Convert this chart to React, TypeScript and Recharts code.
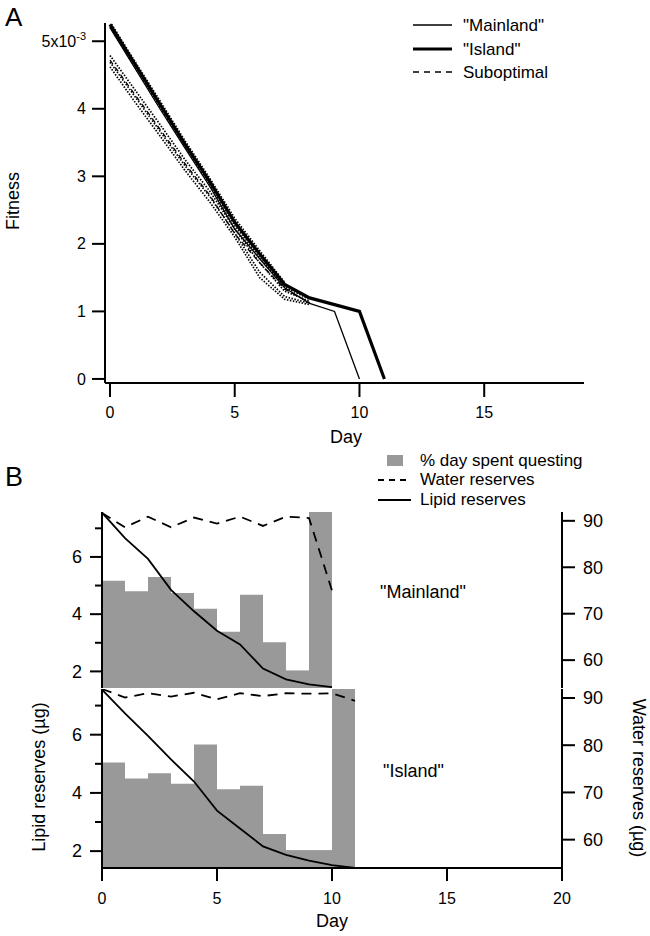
import { LineChart, ComposedChart, Line, Bar, XAxis, YAxis } from 'recharts'

const FONT = '"Liberation Sans", Arial, sans-serif'

// ---- panel A: fitness vs day ----
const fitnessDays = [0, 1, 2, 3, 4, 5, 6, 7, 8, 9, 10, 11]
const mainlandFitness = [5.2, 4.6, 4.0, 3.42, 2.85, 2.22, 1.78, 1.35, 1.12, 1.0, 0]
const islandFitness = [5.25, 4.66, 4.07, 3.48, 2.92, 2.32, 1.85, 1.4, 1.2, 1.1, 1.0, 0]
const subHigh1 = [5.29, 4.7, 4.12, 3.53, 2.97, 2.38, 1.9, 1.43]
const subHigh2 = [5.21, 4.62, 4.03, 3.45, 2.88, 2.27, 1.8, 1.36, 1.18]
const subLow1 = [4.79, 4.28, 3.77, 3.25, 2.78, 2.22, 1.72, 1.3, 1.15]
const subLow2 = [4.69, 4.18, 3.67, 3.16, 2.7, 2.16, 1.58, 1.22, 1.12]
const subLow3 = [4.62, 4.1, 3.6, 3.09, 2.62, 2.1, 1.5, 1.18, 1.1]
const subDashed = [4.72, 4.21, 3.7, 3.19, 2.72, 2.15, 1.72, 1.33, 1.13]
const fitnessTicks = [0, 1, 2, 3, 4, 5]
const dayTicksA = [0, 5, 10, 15]

const dottedSeries = [
  { key: 'subHigh1', values: subHigh1 },
  { key: 'subHigh2', values: subHigh2 },
  { key: 'subLow1', values: subLow1 },
  { key: 'subLow2', values: subLow2 },
  { key: 'subLow3', values: subLow3 },
]

const fitnessRows = fitnessDays.map((day, i) => {
  const row: Record<string, number | undefined> = {
    day,
    mainland: mainlandFitness[i],
    island: islandFitness[i],
    subDashed: subDashed[i],
  }
  dottedSeries.forEach((s) => (row[s.key] = s.values[i]))
  return row
})

// ---- panel B: questing, water and lipid reserves ----
const bandDays = [0, 1, 2, 3, 4, 5, 6, 7, 8, 9, 10, 11, 12, 13, 14, 15, 16, 17, 18, 19]
const mainlandQuesting = [61, 55, 63, 54, 45, 32, 53, 26, 10, 100]
const mainlandLipid = [7.55, 6.66, 5.93, 4.85, 4.1, 3.42, 2.94, 2.1, 1.72, 1.55, 1.45]
const mainlandWater = [91.7, 88.6, 90.9, 88.6, 90.7, 89.4, 90.9, 88.9, 90.9, 90.6, 75.0]
const islandQuesting = [59, 50, 53, 47, 69, 44, 46, 19, 10, 10, 100]
const islandLipid = [7.55, 6.73, 5.96, 5.15, 4.39, 3.39, 2.78, 2.16, 1.87, 1.67, 1.52, 1.42]
const islandWater = [91.9, 90.1, 91.0, 90.3, 91.1, 89.7, 91.0, 90.4, 91.0, 90.9, 91.0, 89.4]
const lipidTicks = [2, 3, 4, 5, 6, 7]
const waterTicks = [60, 70, 80, 90]
const dayTicksB = [0, 5, 10, 15, 20]

const mainlandRows = bandDays.map((day, i) => ({
  day,
  q: mainlandQuesting[i],
  lipid: mainlandLipid[i],
  water: mainlandWater[i],
}))
const islandRows = bandDays.map((day, i) => ({
  day,
  q: islandQuesting[i],
  lipid: islandLipid[i],
  water: islandWater[i],
}))

function FitnessTick({ x, y, payload }: any) {
  const v = payload.value
  return (
    <g>
      <line x1={x - 13} x2={x} y1={y} y2={y} stroke="#000" strokeWidth={2} />
      <text x={x - 19} y={y} dy="0.35em" textAnchor="end" fontSize={16} fontFamily={FONT} fill="#000">
        {v === 5 ? (
          <>
            5x10<tspan dy={-7} fontSize={11}>-3</tspan>
          </>
        ) : (
          v
        )}
      </text>
    </g>
  )
}

function LipidTick({ x, y, payload }: any) {
  const v = payload.value
  const major = v % 2 === 0
  return (
    <g>
      <line x1={x - (major ? 12 : 7)} x2={x} y1={y} y2={y} stroke="#000" strokeWidth={2} />
      {major && (
        <text x={x - 20} y={y} dy="0.35em" textAnchor="end" fontSize={18} fontFamily={FONT} fill="#000">
          {v}
        </text>
      )}
    </g>
  )
}

function WaterTick({ x, y, payload }: any) {
  return (
    <g>
      <line x1={x} x2={x + 13} y1={y} y2={y} stroke="#000" strokeWidth={2} />
      <text x={x + 21} y={y} dy="0.35em" textAnchor="start" fontSize={18} fontFamily={FONT} fill="#000">
        {payload.value}
      </text>
    </g>
  )
}

const axisLine = { stroke: '#000', strokeWidth: 2 }

function FitnessPanel() {
  return (
    <LineChart
      width={650}
      height={450}
      data={fitnessRows}
      margin={{ top: 23, right: 66, bottom: 27, left: 0 }}
    >
      <XAxis
        dataKey="day"
        type="number"
        domain={[-0.2, 19]}
        ticks={dayTicksA}
        height={40}
        tickSize={14}
        tickMargin={10}
        axisLine={axisLine}
        tickLine={axisLine}
        tick={{ fill: '#000', fontSize: 16, fontFamily: FONT }}
      />
      <YAxis
        type="number"
        domain={[-0.06, 5.27]}
        allowDataOverflow
        ticks={fitnessTicks}
        width={105}
        tickSize={0}
        tickMargin={0}
        axisLine={axisLine}
        tickLine={false}
        tick={<FitnessTick />}
      />
      {dottedSeries.map((s) => (
        <Line
          key={s.key}
          dataKey={s.key}
          stroke="#000"
          strokeWidth={1.7}
          strokeDasharray="1.5 1.5"
          dot={false}
          isAnimationActive={false}
        />
      ))}
      <Line
        dataKey="subDashed"
        stroke="#000"
        strokeWidth={1.3}
        strokeDasharray="5 4"
        dot={false}
        isAnimationActive={false}
      />
      <Line dataKey="island" stroke="#000" strokeWidth={3.2} dot={false} isAnimationActive={false} />
      <Line dataKey="mainland" stroke="#000" strokeWidth={1.3} dot={false} isAnimationActive={false} />
    </LineChart>
  )
}

function ReservePanel({ rows, showX, height, bottom }: { rows: any[]; showX: boolean; height: number; bottom: number }) {
  return (
    <ComposedChart
      width={650}
      height={height}
      data={rows}
      barCategoryGap={0}
      barGap={0}
      margin={{ top: 12, right: 0, bottom, left: 0 }}
    >
      <XAxis
        xAxisId="num"
        dataKey="day"
        type="number"
        domain={[0, 20]}
        ticks={dayTicksB}
        hide={!showX}
        height={45}
        tickSize={13}
        tickMargin={12}
        axisLine={axisLine}
        tickLine={axisLine}
        tick={{ fill: '#000', fontSize: 16, fontFamily: FONT }}
      />
      <XAxis xAxisId="band" dataKey="day" type="category" height={0} hide />
      <YAxis yAxisId="q" domain={[0, 100]} width={0} hide />
      <YAxis
        yAxisId="lipid"
        orientation="left"
        type="number"
        domain={[1.42, 7.57]}
        allowDataOverflow
        ticks={lipidTicks}
        width={102}
        tickSize={0}
        tickMargin={0}
        axisLine={axisLine}
        tickLine={false}
        tick={<LipidTick />}
      />
      <YAxis
        yAxisId="water"
        orientation="right"
        type="number"
        domain={[54, 91.9]}
        allowDataOverflow
        ticks={waterTicks}
        width={88}
        tickSize={0}
        tickMargin={0}
        axisLine={axisLine}
        tickLine={false}
        tick={<WaterTick />}
      />
      <Bar xAxisId="band" yAxisId="q" dataKey="q" fill="#999999" isAnimationActive={false} />
      <Line
        xAxisId="num"
        yAxisId="water"
        dataKey="water"
        stroke="#000"
        strokeWidth={1.8}
        strokeDasharray="10 7"
        dot={false}
        isAnimationActive={false}
      />
      <Line
        xAxisId="num"
        yAxisId="lipid"
        dataKey="lipid"
        stroke="#000"
        strokeWidth={1.8}
        dot={false}
        isAnimationActive={false}
      />
    </ComposedChart>
  )
}

function Labels() {
  const t = { fontFamily: FONT, fill: '#000' }
  return (
    <svg width={650} height={936} style={{ position: 'absolute', left: 0, top: 0, pointerEvents: 'none' }}>
      <text x={5} y={26} fontSize={26} {...t}>A</text>
      <text x={5} y={486} fontSize={27} {...t}>B</text>
      <text x={19} y={201} fontSize={18} textAnchor="middle" transform="rotate(-90 19 201)" {...t}>Fitness</text>
      <text x={346} y={443} fontSize={18} textAnchor="middle" {...t}>Day</text>
      <text x={332} y={927} fontSize={18} textAnchor="middle" {...t}>Day</text>
      <text x={45} y={777} fontSize={18} textAnchor="middle" transform="rotate(-90 45 777)" {...t}>Lipid reserves (µg)</text>
      <text x={633} y={778} fontSize={18} textAnchor="middle" transform="rotate(90 633 778)" {...t}>Water reserves (µg)</text>
      <text x={380} y={598} fontSize={18} {...t}>"Mainland"</text>
      <text x={383} y={777} fontSize={18} {...t}>"Island"</text>

      {/* legend A */}
      <line x1={413} x2={452} y1={25} y2={25} stroke="#000" strokeWidth={1.3} />
      <line x1={413} x2={452} y1={49} y2={49} stroke="#000" strokeWidth={3.2} />
      <line x1={413} x2={452} y1={72} y2={72} stroke="#000" strokeWidth={1.3} strokeDasharray="6 5" />
      <text x={463} y={31} fontSize={17} {...t}>"Mainland"</text>
      <text x={463} y={55} fontSize={17} {...t}>"Island"</text>
      <text x={463} y={78} fontSize={17} {...t}>Suboptimal</text>

      {/* legend B */}
      <rect x={387} y={455} width={16} height={11} fill="#999999" />
      <line x1={378} x2={410} y1={480} y2={480} stroke="#000" strokeWidth={1.8} strokeDasharray="6 5" />
      <line x1={378} x2={411} y1={500} y2={500} stroke="#000" strokeWidth={1.8} />
      <text x={420} y={466} fontSize={17} {...t}>% day spent questing</text>
      <text x={420} y={485} fontSize={17} {...t}>Water reserves</text>
      <text x={420} y={505} fontSize={17} {...t}>Lipid reserves</text>
    </svg>
  )
}

export default function App() {
  return (
    <div style={{ position: 'absolute', left: 0, top: 0, width: 650, height: 936, background: '#fff' }}>
      <div style={{ position: 'absolute', left: 0, top: 0 }}>
        <FitnessPanel />
      </div>
      <div style={{ position: 'absolute', left: 0, top: 500 }}>
        <ReservePanel rows={mainlandRows} showX={false} height={200} bottom={12} />
      </div>
      <div style={{ position: 'absolute', left: 0, top: 677 }}>
        <ReservePanel rows={islandRows} showX={true} height={259} bottom={23} />
      </div>
      <Labels />
    </div>
  )
}
